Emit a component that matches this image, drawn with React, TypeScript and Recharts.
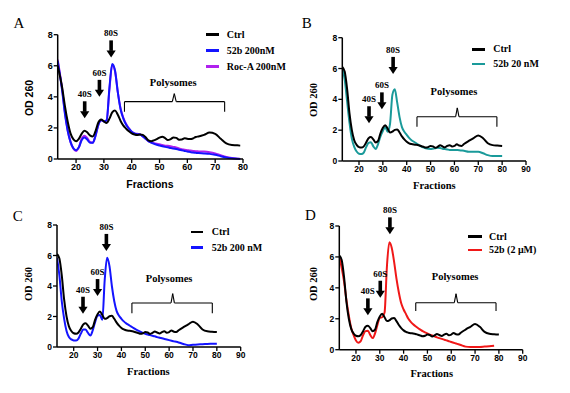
import React from 'react';
import { LineChart, Line, XAxis, YAxis, ReferenceDot, ReferenceLine } from 'recharts';

// ---- panel A data ----
const aFrac = [13.4, 15, 16, 17, 18, 19, 20, 21, 22, 23, 24, 25, 26, 27, 28, 29, 30, 31, 32, 33, 34, 35, 36, 37, 38, 39,
  40, 41, 42, 43, 44, 45, 46, 47, 48, 49, 50, 51, 52, 53, 54, 55, 56, 57, 58, 59, 60, 61, 62, 63, 64,
  66, 68, 70, 72, 74, 76, 78, 79];
const aCtrl = [6.0, 4.6, 3.4, 2.4, 1.65, 1.28, 1.15, 1.3, 1.62, 1.82, 1.72, 1.52, 1.45, 1.8, 2.35, 2.55, 2.42, 2.32, 2.6, 3.0, 3.12, 2.85, 2.45, 2.15, 1.95, 1.78,
  1.65, 1.58, 1.55, 1.58, 1.55, 1.4, 1.2, 1.15, 1.2, 1.28, 1.38, 1.44, 1.35, 1.22, 1.28, 1.38, 1.36, 1.24, 1.25, 1.33, 1.3, 1.28, 1.32, 1.42, 1.45,
  1.55, 1.7, 1.62, 1.3, 1.0, 0.9, 0.88, 0.86];
const a52b = [6.3, 4.4, 2.9, 1.8, 1.1, 0.7, 0.57, 0.75, 1.2, 1.38, 1.25, 1.05, 1.05, 1.5, 2.2, 2.5, 2.42, 2.5, 4.6, 6.12, 5.7, 4.3, 3.2, 2.6, 2.2, 1.95,
  1.75, 1.65, 1.6, 1.58, 1.45, 1.3, 1.15, 1.05, 0.98, 0.92, 0.87, 0.82, 0.78, 0.75, 0.71, 0.68, 0.64, 0.6, 0.56, 0.52, 0.48, 0.45, 0.42, 0.4, 0.38,
  0.36, 0.33, 0.27, 0.18, 0.1, 0.05, 0.02, 0.0];
const aRocA = [6.4, 4.5, 3.0, 1.85, 1.1, 0.68, 0.52, 0.75, 1.3, 1.5, 1.35, 1.1, 1.05, 1.5, 2.2, 2.5, 2.42, 2.5, 4.5, 6.05, 5.65, 4.3, 3.25, 2.65, 2.25, 1.98,
  1.75, 1.65, 1.62, 1.58, 1.45, 1.3, 1.15, 1.08, 1.02, 0.98, 0.95, 0.9, 0.86, 0.85, 0.82, 0.78, 0.74, 0.68, 0.63, 0.6, 0.57, 0.54, 0.52, 0.5, 0.49,
  0.48, 0.44, 0.36, 0.24, 0.13, 0.06, 0.02, 0.0];

// ---- panels B, C, D data (shared fraction grid, shared control trace) ----
const bcdFrac = [13, 14, 15, 16, 17, 18, 19, 20, 21, 22, 23, 24, 25, 26, 27, 28, 29, 30, 31, 32, 33, 34, 35, 36, 37, 38, 39, 40,
  41, 42, 43, 44, 45, 46, 47, 48, 49, 50, 51, 52, 53, 54, 55, 56, 57, 58, 59, 60, 61, 62, 63, 64,
  66, 68, 70, 72, 74, 76, 78, 80];
const ctrl = [6.1, 5.8, 4.7, 3.1, 2.0, 1.35, 1.05, 0.9, 0.87, 0.95, 1.2, 1.48, 1.55, 1.4, 1.2, 1.3, 1.8, 2.15, 2.32, 2.1, 1.85, 1.9, 2.02, 2.05, 1.85, 1.6, 1.4, 1.25,
  1.15, 1.1, 1.07, 1.05, 1.02, 0.97, 0.92, 0.87, 0.9, 0.98, 0.95, 0.86, 0.92, 1.02, 0.95, 0.88, 0.98, 1.03, 0.94, 0.98, 1.08, 1.0, 0.98, 1.1,
  1.3, 1.48, 1.66, 1.48, 1.15, 1.03, 1.0, 0.98];
const b52b20nM = [6.0, 5.3, 3.9, 2.5, 1.45, 0.92, 0.62, 0.47, 0.45, 0.55, 0.9, 1.18, 1.22, 0.95, 0.78, 1.1, 1.6, 1.95, 2.2, 1.9, 2.4, 4.3, 4.65, 3.8, 2.85, 2.2, 1.9, 1.7,
  1.5, 1.35, 1.25, 1.15, 1.05, 0.95, 0.88, 0.82, 0.79, 0.78, 0.8, 0.83, 0.86, 0.85, 0.8, 0.77, 0.75, 0.72, 0.72, 0.72, 0.71, 0.7, 0.68, 0.66,
  0.6, 0.6, 0.6, 0.5, 0.38, 0.32, 0.32, 0.32];
const c52b200nM = [5.85, 4.7, 3.0, 1.85, 1.05, 0.65, 0.5, 0.43, 0.42, 0.55, 0.88, 1.15, 1.15, 0.92, 0.75, 1.1, 1.65, 2.05, 2.1, 1.78, 4.4, 5.85, 5.3, 4.0, 3.0, 2.35, 2.05, 1.85,
  1.68, 1.55, 1.45, 1.35, 1.25, 1.15, 1.07, 1.0, 0.93, 0.87, 0.82, 0.78, 0.74, 0.7, 0.65, 0.61, 0.57, 0.53, 0.49, 0.45, 0.41, 0.37, 0.34, 0.3,
  0.2, 0.12, 0.15, 0.17, 0.18, 0.2, 0.21, 0.22];
const d52b2uM = [6.0, 5.3, 4.4, 3.2, 2.2, 1.4, 0.95, 0.6, 0.45, 0.55, 0.95, 1.2, 1.22, 0.95, 0.75, 1.05, 1.6, 2.05, 2.1, 2.4, 5.4, 6.95, 6.6, 5.7, 4.6, 3.7, 3.0, 2.6,
  2.3, 2.0, 1.8, 1.65, 1.52, 1.4, 1.3, 1.2, 1.12, 1.05, 0.98, 0.92, 0.86, 0.8, 0.75, 0.7, 0.65, 0.6, 0.55, 0.5, 0.45, 0.4, 0.35, 0.3,
  0.2, 0.17, 0.17, 0.18, 0.2, 0.22, 0.25, null];

const yTicks = [0, 2, 4, 6, 8];
const aXTicks = [20, 30, 40, 50, 60, 70, 80];
const bcdXTicks = [20, 30, 40, 50, 60, 70, 80, 90];

// arrow tips (fraction, OD) and bracket over the polysome region
const aArrows = [{ label: '40S', x: 23.1, y: 2.62 }, { label: '60S', x: 28.4, y: 4.0 }, { label: '80S', x: 32.6, y: 6.54 }];
const bArrows = [{ label: '40S', x: 24.2, y: 2.45 }, { label: '60S', x: 29.6, y: 3.35 }, { label: '80S', x: 34.3, y: 5.65 }];
const cArrows = [{ label: '40S', x: 23.9, y: 2.18 }, { label: '60S', x: 30, y: 3.34 }, { label: '80S', x: 33.7, y: 6.3 }];
const dArrows = [{ label: '40S', x: 25, y: 2.22 }, { label: '60S', x: 30.2, y: 3.36 }, { label: '80S', x: 34.25, y: 7.46 }];

const aBracket = { x0: 37.4, x1: 73.4, xm: 55.3, y: 3.69, yEnd: 3.04, yPeak: 4.2, tx: 54.9, ty: 4.93 };
const bBracket = { x0: 44.3, x1: 77.8, xm: 61.2, y: 2.87, yEnd: 2.23, yPeak: 3.45, tx: 59.8, ty: 4.5 };
const cBracket = { x0: 44.4, x1: 78.1, xm: 61.5, y: 2.89, yEnd: 2.21, yPeak: 3.5, tx: 60, ty: 4.5 };
const dBracket = { x0: 45.1, x1: 78.8, xm: 62, y: 3.04, yEnd: 2.5, yPeak: 3.62, tx: 61.6, ty: 4.72 };

const SERIF = '"Liberation Serif", "Times New Roman", serif';
const SANS = '"Liberation Sans", Arial, sans-serif';

const rows = (frac: number[], cols: Record<string, (number | null)[]>) =>
  frac.map((f, i) => {
    const r: any = { f };
    Object.keys(cols).forEach((k) => (r[k] = cols[k][i]));
    return r;
  });

const ArrowMark = ({ cx, cy, label }: any) => (
  <g>
    <rect x={cx - 1.8} y={cy - 17} width={3.6} height={10.5} fill="#000" />
    <polygon points={`${cx - 4.6},${cy - 7} ${cx + 4.6},${cy - 7} ${cx},${cy}`} fill="#000" />
    <text x={cx} y={cy - 21} textAnchor="middle" fontFamily={SERIF} fontWeight="bold" fontSize={9} fill="#000">{label}</text>
  </g>
);

const Txt = ({ x, y, rotate, style, children }: any) => (
  <div style={{
    position: 'absolute', left: x, top: y, whiteSpace: 'nowrap', lineHeight: 1,
    transform: `translate(-50%, -50%)${rotate ? ' rotate(-90deg)' : ''}`, ...style,
  }}>{children}</div>
);

const Panel = ({ p }: any) => {
  const b = p.bracket;
  const d = 0.7;
  const segs = [
    [[b.x0, b.yEnd], [b.x0, b.y]],
    [[b.x0, b.y], [b.xm - d, b.y]],
    [[b.xm - d, b.y], [b.xm, b.yPeak]],
    [[b.xm, b.yPeak], [b.xm + d, b.y]],
    [[b.xm + d, b.y], [b.x1, b.y]],
    [[b.x1, b.y], [b.x1, b.yEnd]],
  ];
  const tickStyle = { fontFamily: SANS, fontWeight: 'bold', fontSize: p.tickSize, fill: '#000' };
  const axisFont = p.serifAxis
    ? { fontFamily: SERIF, fontWeight: 'bold', fontSize: 10.5 }
    : { fontFamily: SANS, fontWeight: 'bold', fontSize: 10.5 };
  // draw order: treated traces underneath, control on top
  const drawOrder = [...p.series].reverse();
  return (
    <div style={{ position: 'absolute', left: p.left, top: p.top, width: p.w, height: p.h }}>
      <LineChart width={p.w} height={p.h} data={p.data} margin={p.margin}>
        <XAxis type="number" dataKey="f" domain={p.xDomain} ticks={p.xTicks} interval={0} allowDataOverflow
          height={20} tick={tickStyle} tickSize={4} tickMargin={1}
          axisLine={{ stroke: '#000', strokeWidth: 1.5 }} tickLine={{ stroke: '#000', strokeWidth: 1.3 }} />
        <YAxis type="number" domain={[0, 8]} ticks={yTicks} interval={0} width={30}
          tick={tickStyle} tickSize={4} tickMargin={1}
          axisLine={{ stroke: '#000', strokeWidth: 1.5 }} tickLine={{ stroke: '#000', strokeWidth: 1.3 }} />
        {drawOrder.map((s: any) => (
          <Line key={s.key} type="monotone" dataKey={s.key} stroke={s.color} strokeWidth={2}
            dot={false} connectNulls isAnimationActive={false} />
        ))}
        {segs.map((s, i) => (
          <ReferenceLine key={i} ifOverflow="visible" stroke="#000" strokeWidth={1.1}
            segment={[{ x: s[0][0], y: s[0][1] }, { x: s[1][0], y: s[1][1] }]} />
        ))}
        <ReferenceDot x={b.tx} y={b.ty} r={0} ifOverflow="visible"
          shape={(q: any) => (
            <text x={q.cx} y={q.cy + 3.5} textAnchor="middle" fontFamily={SERIF} fontWeight="bold" fontSize={10.5} fill="#000">Polysomes</text>
          )} />
        {p.arrows.map((a: any) => (
          <ReferenceDot key={a.label} x={a.x} y={a.y} r={0} ifOverflow="visible"
            shape={(q: any) => <ArrowMark cx={q.cx} cy={q.cy} label={a.label} />} />
        ))}
      </LineChart>
      <Txt x={p.letter.x} y={p.letter.y} style={{ fontFamily: SERIF, fontSize: 15 }}>{p.letter.t}</Txt>
      <Txt x={p.yLab.x} y={p.yLab.y} rotate style={axisFont}>OD 260</Txt>
      <Txt x={p.xLab.x} y={p.xLab.y} style={axisFont}>Fractions</Txt>
      {p.series.map((s: any, i: number) => (
        <React.Fragment key={s.key}>
          <div style={{ position: 'absolute', left: p.legend.x, top: p.legend.y[i] - 1.25, width: p.legend.len, height: 2.5, background: s.color }} />
          <div style={{
            position: 'absolute', left: p.legend.tx, top: p.legend.y[i], transform: 'translateY(-50%)',
            fontFamily: SERIF, fontWeight: 'bold', fontSize: 10, lineHeight: 1, whiteSpace: 'nowrap',
          }}>{s.name}</div>
        </React.Fragment>
      ))}
    </div>
  );
};

const panels = [
  {
    left: 0, top: 0, w: 285, h: 196, margin: { top: 34.7, right: 42, bottom: 17, left: 27.7 },
    xDomain: [13.4, 80], xTicks: aXTicks, tickSize: 9, serifAxis: false,
    data: rows(aFrac, { ctrl: aCtrl, drug: a52b, roca: aRocA }),
    series: [
      { key: 'ctrl', color: '#000000', name: 'Ctrl' },
      { key: 'drug', color: '#1414ff', name: '52b 200nM' },
      { key: 'roca', color: '#b021ee', name: 'Roc-A 200nM' },
    ],
    arrows: aArrows, bracket: aBracket,
    letter: { t: 'A', x: 19, y: 23 }, yLab: { x: 29.3, y: 97.7 }, xLab: { x: 150, y: 184 },
    legend: { x: 206, len: 12.5, tx: 226.7, y: [34.7, 50.7, 66.7] },
  },
  {
    left: 285, top: 0, w: 285, h: 196, margin: { top: 37.7, right: 44, bottom: 15, left: 27.3 },
    xDomain: [13, 90], xTicks: bcdXTicks, tickSize: 8.5, serifAxis: true,
    data: rows(bcdFrac, { ctrl, drug: b52b20nM }),
    series: [
      { key: 'ctrl', color: '#000000', name: 'Ctrl' },
      { key: 'drug', color: '#1a9a9a', name: '52b 20 nM' },
    ],
    arrows: bArrows, bracket: bBracket,
    letter: { t: 'B', x: 21.7, y: 23.3 }, yLab: { x: 29.3, y: 100 }, xLab: { x: 149.3, y: 185.7 },
    legend: { x: 186.7, len: 13.3, tx: 208.3, y: [49.3, 64] },
  },
  {
    left: 0, top: 196, w: 285, h: 197, margin: { top: 29, right: 44.3, bottom: 26, left: 27 },
    xDomain: [13, 90], xTicks: bcdXTicks, tickSize: 8.5, serifAxis: true,
    data: rows(bcdFrac, { ctrl, drug: c52b200nM }),
    series: [
      { key: 'ctrl', color: '#000000', name: 'Ctrl' },
      { key: 'drug', color: '#1414ff', name: '52b 200 nM' },
    ],
    arrows: cArrows, bracket: cBracket,
    letter: { t: 'C', x: 17.8, y: 19.7 }, yLab: { x: 29.3, y: 88.3 }, xLab: { x: 148.3, y: 175.7 },
    legend: { x: 191, len: 12.3, tx: 211.7, y: [36, 51.7] },
  },
  {
    left: 285, top: 196, w: 285, h: 197, margin: { top: 30, right: 47.3, bottom: 23.3, left: 24.3 },
    xDomain: [13, 90], xTicks: bcdXTicks, tickSize: 8.5, serifAxis: true,
    data: rows(bcdFrac, { ctrl, drug: d52b2uM }),
    series: [
      { key: 'ctrl', color: '#000000', name: 'Ctrl' },
      { key: 'drug', color: '#f01818', name: '52b (2 μM)' },
    ],
    arrows: dArrows, bracket: dBracket,
    letter: { t: 'D', x: 25.5, y: 19 }, yLab: { x: 29.3, y: 88.3 }, xLab: { x: 146.7, y: 178.3 },
    legend: { x: 183.3, len: 13.4, tx: 204, y: [40.7, 54] },
  },
];

export default function App() {
  return (
    <div style={{ position: 'absolute', left: 0, top: 0, width: 570, height: 393, background: '#fff' }}>
      {panels.map((p, i) => <Panel key={i} p={p} />)}
    </div>
  );
}
